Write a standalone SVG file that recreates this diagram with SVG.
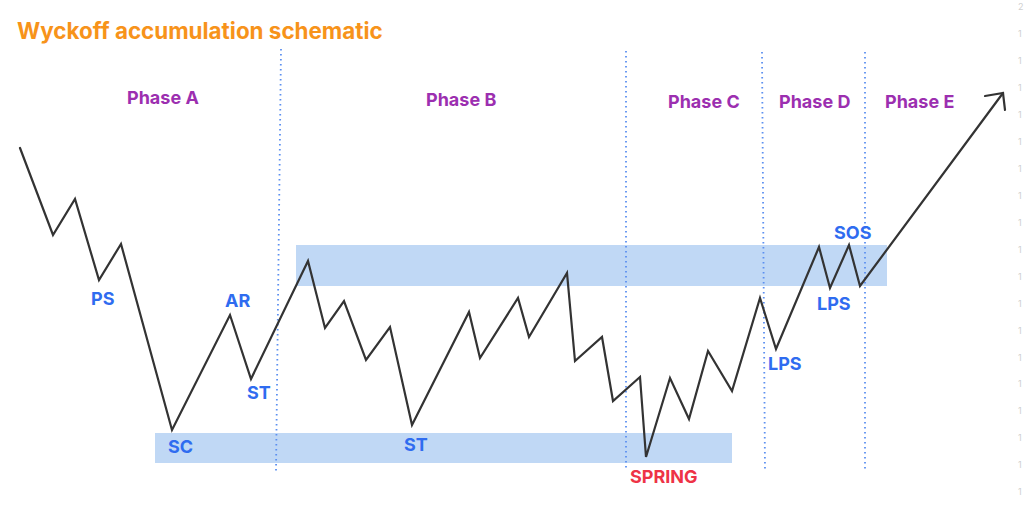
<svg xmlns="http://www.w3.org/2000/svg" width="1024" height="513" viewBox="0 0 1024 513">
<style>
.title{font-family:Inter,"Liberation Sans",sans-serif;font-weight:700;font-size:22.4px;fill:#f7931a}
.phase{font-family:Inter,"Liberation Sans",sans-serif;font-weight:700;font-size:18px;fill:#9c2fb0}
.lbl{font-family:Inter,"Liberation Sans",sans-serif;font-weight:700;font-size:18px;fill:#2f6cf0}
.spring{font-family:Inter,"Liberation Sans",sans-serif;font-weight:700;font-size:18px;fill:#ee3346}
.tick{font-family:Inter,"Liberation Sans",sans-serif;font-size:9px;fill:#cfcfcf}
.band{fill:#c0d8f5}
.div{stroke:#5b8ff0;stroke-width:1.8;stroke-dasharray:1.6 3.4;fill:none}
.price{stroke:#333;stroke-width:2.2;fill:none;stroke-linejoin:miter;stroke-linecap:round}
</style>
<rect width="1024" height="513" fill="#fff"/>
<g id="ticks">
<text class="tick" x="1018" y="10">2</text>
<text class="tick" x="1018" y="37">1</text>
<text class="tick" x="1018" y="64">1</text>
<text class="tick" x="1018" y="91">1</text>
<text class="tick" x="1018" y="118">1</text>
<text class="tick" x="1018" y="145">1</text>
<text class="tick" x="1018" y="172">1</text>
<text class="tick" x="1018" y="199">1</text>
<text class="tick" x="1018" y="226">1</text>
<text class="tick" x="1018" y="253">1</text>
<text class="tick" x="1018" y="280">1</text>
<text class="tick" x="1018" y="307">1</text>
<text class="tick" x="1018" y="334">1</text>
<text class="tick" x="1018" y="361">1</text>
<text class="tick" x="1018" y="387">1</text>
<text class="tick" x="1018" y="414">1</text>
<text class="tick" x="1018" y="441">1</text>
<text class="tick" x="1018" y="468">1</text>
<text class="tick" x="1018" y="495">1</text>
</g>
<g id="title"><text class="title" x="17" y="39">Wyckoff accumulation schematic</text></g>
<g id="bands">
<rect id="resistance-band" class="band" x="296" y="245" width="591" height="41"/>
<rect id="support-band" class="band" x="155" y="433" width="577" height="30"/>
</g>
<g id="dividers">
<line class="div" x1="281" y1="49" x2="276" y2="472"/>
<line class="div" x1="626" y1="51" x2="626" y2="470"/>
<line class="div" x1="762" y1="52" x2="765" y2="471"/>
<line class="div" x1="865" y1="52" x2="865" y2="471"/>
</g>
<g id="phases">
<text class="phase" x="127" y="104">Phase A</text>
<text class="phase" x="426" y="106">Phase B</text>
<text class="phase" x="668" y="108">Phase C</text>
<text class="phase" x="779" y="108">Phase D</text>
<text class="phase" x="885" y="108">Phase E</text>
</g>
<g id="connectors">
<polyline class="price" points="20,148 53,235 75,199 99,280 121,244 172,430 230,315 251,379 308,261 325,328 344,301 366,360 390,327 412,425 469,312 480,358 518,298 529,337 567,273 575,361 602,337 613,401 640,377 646,457 670,378 689,419 708,351 732,391 760,298 776,349 819,247 830,288 849,245 860,286 1003,93"/>
<polyline class="price" points="985,96 1003,93 1005,110"/>
</g>
<g id="labels">
<text class="lbl" x="91" y="305">PS</text>
<text class="lbl" x="225" y="307">AR</text>
<text class="lbl" x="247" y="399">ST</text>
<text class="lbl" x="168" y="453">SC</text>
<text class="lbl" x="404" y="451">ST</text>
<text class="spring" x="630" y="483">SPRING</text>
<text class="lbl" x="768" y="370">LPS</text>
<text class="lbl" x="817" y="310">LPS</text>
<text class="lbl" x="834" y="239">SOS</text>
</g>
</svg>
